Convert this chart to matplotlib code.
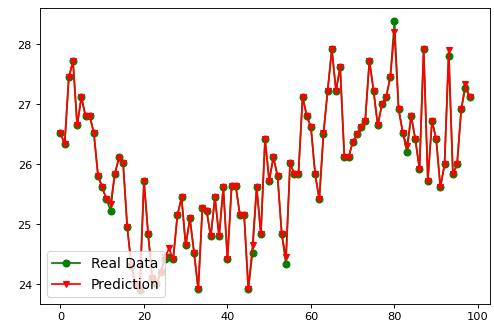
import numpy as np
import matplotlib
matplotlib.use("Agg")
import matplotlib.pyplot as plt

# valeurs (indices 0..98)
real_data = [26.53, 26.34, 27.45, 27.72, 26.65, 27.12, 26.81, 26.81, 26.52, 25.81,
             25.62, 25.42, 25.23, 25.84, 26.12, 26.03, 24.95, 24.30, 24.00, 23.90,
             25.73, 24.84, 24.10, 24.00, 24.20, 24.42, 24.45, 24.42, 25.15, 25.45,
             24.65, 25.10, 24.53, 23.92, 25.28, 25.23, 24.80, 25.45, 24.80, 25.62,
             24.42, 25.64, 25.64, 25.15, 25.15, 23.92, 24.53, 25.62, 24.84, 26.42,
             25.73, 26.12, 25.81, 24.84, 24.34, 26.03, 25.84, 25.84, 27.12, 26.81,
             26.62, 25.84, 25.42, 26.50, 27.23, 27.92, 27.23, 27.62, 26.12, 26.12,
             26.37, 26.50, 26.62, 26.73, 27.73, 27.23, 26.65, 27.00, 27.12, 27.45,
             28.39, 26.92, 26.53, 26.20, 26.81, 26.42, 25.92, 27.92, 25.73, 26.73,
             26.42, 25.62, 26.00, 27.80, 25.84, 26.00, 26.92, 27.28, 27.12]

prediction = [26.53, 26.34, 27.45, 27.72, 26.65, 27.12, 26.81, 26.81, 26.52, 25.81,
              25.62, 25.42, 25.34, 25.84, 26.10, 26.03, 24.95, 24.30, 24.00, 23.90,
              25.73, 24.84, 24.10, 24.00, 24.20, 24.45, 24.60, 24.42, 25.15, 25.45,
              24.65, 25.10, 24.53, 23.92, 25.28, 25.23, 24.80, 25.45, 24.80, 25.62,
              24.42, 25.64, 25.64, 25.15, 25.15, 23.92, 24.65, 25.62, 24.84, 26.42,
              25.73, 26.12, 25.81, 24.84, 24.45, 26.03, 25.84, 25.84, 27.12, 26.81,
              26.62, 25.84, 25.42, 26.53, 27.23, 27.92, 27.23, 27.62, 26.12, 26.12,
              26.37, 26.50, 26.62, 26.73, 27.73, 27.23, 26.65, 27.00, 27.12, 27.45,
              28.20, 26.92, 26.53, 26.30, 26.81, 26.42, 25.92, 27.92, 25.73, 26.73,
              26.42, 25.62, 26.00, 27.90, 25.84, 26.00, 26.92, 27.34, 27.12]

x = np.arange(len(real_data))

fig = plt.figure(figsize=(6, 4), dpi=494 / 6)
ax = fig.add_axes([0.081, 0.076, 0.911, 0.9])
ax.plot(x, real_data, color='green', marker='o', label='Real Data')
ax.plot(x, prediction, color='red', marker='v', label='Prediction')
ax.legend(loc='lower left', fontsize=12)
fig.savefig('out.png', dpi=494 / 6)
